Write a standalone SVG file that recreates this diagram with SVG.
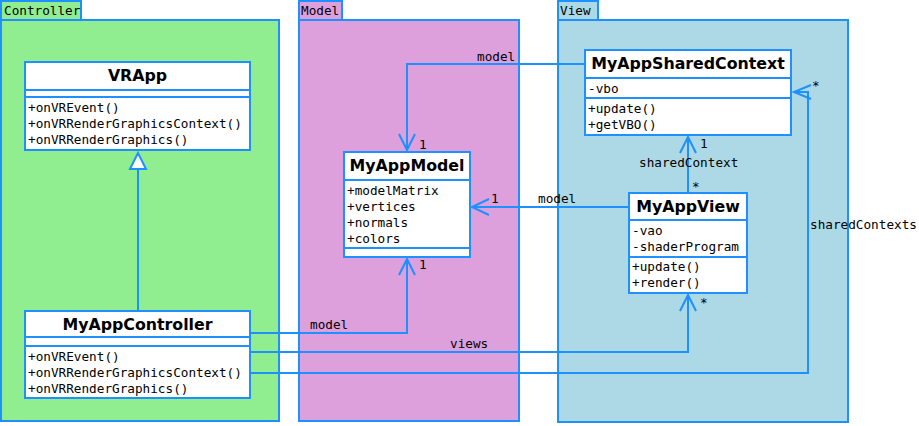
<svg xmlns="http://www.w3.org/2000/svg" width="919" height="426" viewBox="0 0 919 426">
<style>
.pkg{stroke:#1E90FF;stroke-width:2}
.cls{fill:#fff;stroke:#1E90FF;stroke-width:2}
.sep{stroke:#1E90FF;stroke-width:2}
.edge{fill:none;stroke:#1E90FF;stroke-width:2}
.t{font-family:"DejaVu Sans Mono","Liberation Mono",monospace;font-size:12.7px;fill:#000}
.title{font-family:"DejaVu Sans","Liberation Sans",sans-serif;font-size:15.8px;font-weight:bold;fill:#000;text-anchor:middle}
</style>
<rect width="919" height="426" fill="#fff"/>
<g id="pkg-controller">
<rect class="pkg" x="1" y="1" width="80" height="19" fill="#90EE90"/>
<rect class="pkg" x="1" y="20" width="278" height="401" fill="#90EE90"/>
<text class="t" x="4" y="15">Controller</text>
</g>
<g id="pkg-model">
<rect class="pkg" x="299" y="1" width="43" height="19" fill="#DDA0DD"/>
<rect class="pkg" x="299" y="20" width="220" height="401" fill="#DDA0DD"/>
<text class="t" x="301" y="15">Model</text>
</g>
<g id="pkg-view">
<rect class="pkg" x="558" y="1" width="40" height="19" fill="#ADD8E6"/>
<rect class="pkg" x="558" y="20" width="290" height="402" fill="#ADD8E6"/>
<text class="t" x="560" y="15">View</text>
</g>
<g id="connectors">
<path class="edge" d="M138,311 V169"/>
<polygon points="138,153 130,169 146,169" fill="#fff" stroke="#1E90FF" stroke-width="2"/>
<path class="edge" d="M585,64 H407 V150"/>
<path class="edge" d="M399,134 L407,150 L415,134"/>
<path class="edge" d="M629,207 H472"/>
<path class="edge" d="M489,199 L472,207 L489,215"/>
<path class="edge" d="M688,193 V137"/>
<path class="edge" d="M680,153 L688,137 L696,153"/>
<path class="edge" d="M250,333 H407 V259"/>
<path class="edge" d="M399,275 L407,259 L415,275"/>
<path class="edge" d="M250,352 H688 V295"/>
<path class="edge" d="M680,311 L688,295 L696,311"/>
<path class="edge" d="M250,373 H808 V92 H794"/>
<path class="edge" d="M811,85 L794,92 L811,99"/>
<text class="t" x="477" y="61">model</text>
<text class="t" x="419" y="149">1</text>
<text class="t" x="538" y="203">model</text>
<text class="t" x="491" y="203">1</text>
<text class="t" x="639" y="167">sharedContext</text>
<text class="t" x="700" y="148">1</text>
<text class="t" x="692" y="191">*</text>
<text class="t" x="310" y="329">model</text>
<text class="t" x="419" y="269">1</text>
<text class="t" x="450" y="348">views</text>
<text class="t" x="700" y="307">*</text>
<text class="t" x="810" y="229">sharedContexts</text>
<text class="t" x="812" y="90">*</text>
</g>
<g id="VRApp">
<rect class="cls" x="25" y="62" width="225" height="88"/>
<line class="sep" x1="25" y1="90" x2="250" y2="90"/>
<line class="sep" x1="25" y1="97" x2="250" y2="97"/>
<text class="title" x="137.5" y="81">VRApp</text>
<text class="t" x="28" y="112">+onVREvent()</text>
<text class="t" x="28" y="128">+onVRRenderGraphicsContext()</text>
<text class="t" x="28" y="144">+onVRRenderGraphics()</text>
</g>
<g id="MyAppController">
<rect class="cls" x="25" y="311" width="225" height="87"/>
<line class="sep" x1="25" y1="337" x2="250" y2="337"/>
<line class="sep" x1="25" y1="346" x2="250" y2="346"/>
<text class="title" x="137.5" y="330">MyAppController</text>
<text class="t" x="28" y="361">+onVREvent()</text>
<text class="t" x="28" y="377">+onVRRenderGraphicsContext()</text>
<text class="t" x="28" y="393">+onVRRenderGraphics()</text>
</g>
<g id="MyAppModel">
<rect class="cls" x="344" y="152" width="126" height="105"/>
<line class="sep" x1="344" y1="180" x2="470" y2="180"/>
<line class="sep" x1="344" y1="248" x2="470" y2="248"/>
<text class="title" x="407" y="171">MyAppModel</text>
<text class="t" x="347" y="195">+modelMatrix</text>
<text class="t" x="347" y="211">+vertices</text>
<text class="t" x="347" y="227">+normals</text>
<text class="t" x="347" y="243">+colors</text>
</g>
<g id="MyAppSharedContext">
<rect class="cls" x="585" y="50" width="206" height="85"/>
<line class="sep" x1="585" y1="78" x2="791" y2="78"/>
<line class="sep" x1="585" y1="98" x2="791" y2="98"/>
<text class="title" x="688" y="69">MyAppSharedContext</text>
<text class="t" x="588" y="93">-vbo</text>
<text class="t" x="588" y="113">+update()</text>
<text class="t" x="588" y="129">+getVBO()</text>
</g>
<g id="MyAppView">
<rect class="cls" x="629" y="193" width="118" height="100"/>
<line class="sep" x1="629" y1="220" x2="747" y2="220"/>
<line class="sep" x1="629" y1="257" x2="747" y2="257"/>
<text class="title" x="688" y="212">MyAppView</text>
<text class="t" x="632" y="235">-vao</text>
<text class="t" x="632" y="251">-shaderProgram</text>
<text class="t" x="632" y="271">+update()</text>
<text class="t" x="632" y="287">+render()</text>
</g>
</svg>
